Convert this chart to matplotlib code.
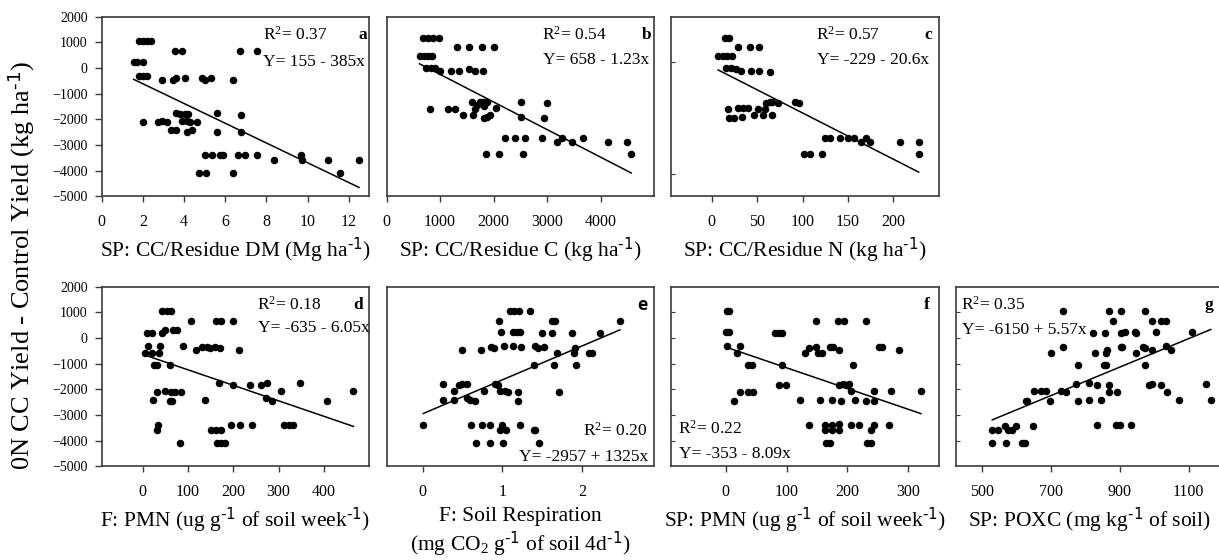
import matplotlib
matplotlib.use("Agg")
import matplotlib.pyplot as plt
import numpy as np

plt.rcParams["font.family"] = ["Liberation Serif", "DejaVu Serif"]
plt.rcParams["mathtext.default"] = "regular"

# %%
# values
a_x = [1.55, 1.7, 2.0, 1.8, 2.0, 2.2, 2.4, 1.8, 2.0, 2.2, 2.0, 2.95, 3.45, 3.6, 4.05, 4.85,
       5.0, 5.3, 6.4, 3.55, 3.9, 6.7, 7.55, 2.75, 2.95, 3.15, 3.35, 3.6, 3.6, 3.8, 3.9, 4.05,
       4.15, 4.2, 4.3, 4.15, 4.4, 4.65, 5.6, 5.6, 6.75, 6.75, 5.0, 5.35, 5.75, 5.9, 6.6, 6.95,
       7.55, 9.7, 9.75, 8.35, 11.0, 12.5, 4.75, 5.05, 6.4, 11.6]
a_y = [250, 250, 250, 1050, 1050, 1050, 1050, -300, -300, -300, -2100, -450, -450, -400, -400,
       -400, -450, -400, -450, 650, 650, 650, 650, -2100, -2050, -2100, -2400, -2400, -1750,
       -1800, -2050, -1800, -2050, -1800, -2100, -2500, -2400, -2100, -1750, -2500, -1850,
       -2500, -3400, -3400, -3400, -3400, -3400, -3400, -3400, -3400, -3600, -3600, -3600,
       -3600, -4100, -4100, -4100, -4100]

b_x = [680, 770, 860, 970, 1310, 1540, 1775, 2010, 615, 690, 770, 850, 740, 825, 905, 1000,
       1200, 1360, 1540, 1650, 1805, 815, 1155, 1280, 1435, 1595, 1610, 1660, 1695, 1745, 1795,
       1825, 1870, 1820, 1880, 1930, 2045, 2520, 2510, 2940, 3005, 2210, 2400, 2585, 2895,
       3190, 3280, 3470, 3670, 4130, 4500, 1850, 2105, 2540, 4570]
b_y = [1050, 1050, 1050, 1050, 650, 650, 650, 650, 250, 250, 250, 250, -300, -300, -300, -400,
       -400, -400, -350, -400, -400, -2100, -2100, -2100, -2400, -1800, -2400, -2100, -1950,
       -1800, -1800, -2000, -1800, -2500, -2450, -2400, -2050, -1800, -2450, -2500, -1850,
       -3400, -3400, -3400, -3400, -3600, -3400, -3600, -3400, -3600, -3600, -4100, -4100,
       -4100, -4100]

c_x = [15, 19, 29, 42, 52, 7, 12, 17, 22, 16, 21.5, 27, 32, 43, 52, 64, 60, 64, 66, 73, 92,
       96, 18, 29, 34.5, 40, 51, 59, 19, 25, 33, 47, 56.5, 66, 125, 130, 141, 150, 157, 165,
       170, 174, 207, 228, 102, 108, 122, 228]
c_y = [1050, 1050, 650, 650, 650, 250, 250, 250, 250, -300, -300, -350, -400, -400, -400, -450,
       -1850, -1800, -1800, -1850, -1800, -1850, -2100, -2050, -2050, -2050, -2100, -2100,
       -2500, -2500, -2450, -2400, -2400, -2400, -3400, -3400, -3400, -3400, -3400, -3600,
       -3400, -3600, -3600, -3600, -4100, -4100, -4100, -4100]

d_x = [5, 9, 20, 13, 22, 25, 32, 37, 38, 42, 44, 53, 62, 49, 24, 32, 31, 35, 49, 62, 72, 84,
       61, 66, 61, 68, 75, 83, 89, 106, 118, 131, 142, 149, 160, 171, 137, 162, 173, 169, 151,
       162, 173, 164, 173, 182, 199, 199, 195, 212, 215, 241, 236, 262, 275, 272, 286, 306,
       311, 323, 332, 348, 406, 465]
d_y = [-600, 200, 200, -300, -600, -1050, -1050, -600, -300, 200, 1050, 1050, 1050, 300, -2400,
       -2100, -3600, -3400, -2050, -2100, -2100, -2100, -2450, -2450, -1050, 300, 300, -4100,
       -300, 650, -450, -350, -350, -400, -350, -400, -2400, 650, 650, -1750, -3600, -3600,
       -3600, -4100, -4100, -4100, 650, -1850, -3400, -450, -3400, -3400, -1850, -1850, -1750,
       -2350, -2450, -2050, -3400, -3400, -3400, -1750, -2450, -2050]

e_x = [0.01, 0.26, 0.26, 0.40, 0.40, 0.46, 0.49, 0.56, 0.49, 0.56, 0.60, 0.66, 0.77, 0.73,
       0.86, 0.89, 0.91, 0.94, 0.97, 1.03, 1.07, 0.96, 0.98, 1.02, 1.09, 1.14, 1.21, 1.34,
       1.13, 1.18, 1.22, 1.13, 1.23, 1.19, 1.19, 0.61, 0.74, 0.85, 0.97, 0.99, 1.04, 1.22,
       1.39, 1.41, 0.67, 0.84, 1.01, 1.46, 1.41, 1.45, 1.52, 1.40, 1.49, 1.62, 1.66, 1.62,
       1.68, 1.65, 1.71, 1.87, 1.89, 1.91, 1.92, 2.09, 2.12, 2.22, 2.47]
e_y = [-3400, -1800, -2400, -2050, -2400, -1850, -1800, -1800, -450, -2350, -2400, -2450,
       -2050, -450, -350, -400, -1800, -1850, -2050, -2050, -2100, 650, 250, -300, 1050, 1050,
       1050, 1050, 250, 250, 250, -300, -350, -2100, -2450, -3400, -3400, -3400, -3600, -3400,
       -3600, -3400, -3600, -3600, -4100, -4100, -4100, -4100, -300, -400, -350, -1050, 200,
       650, 650, 200, -600, -1050, -2100, 200, -600, -400, -1050, -600, -600, 200, 650]

f_x = [2, 5, 0, 4.6, 2, 24, 18, 37, 24, 37, 13, 44, 45, 81, 88, 93, 92, 88, 99, 122, 130, 137,
       149, 151, 158, 149, 155, 137, 171, 177, 174, 163, 163, 174, 186, 165, 171, 175, 187,
       184, 195, 187, 187, 192, 197, 203, 190, 206, 210, 213, 206, 219, 230, 231, 244, 233,
       239, 239, 244, 244, 252, 257, 268, 272, 285, 321]
f_y = [1050, 1050, 250, 250, -300, -300, -600, -1050, -2100, -2100, -2450, -1050, -2100, 200,
       200, 200, -1050, -1850, -1850, -2400, -600, -400, -350, -600, -600, 650, -2400, -3400,
       -350, -350, -2400, -3400, -3600, -3600, -3600, -4100, -4100, -3400, -3350, 650, 650,
       -450, -1850, -1800, -1850, -1800, -2450, -2050, -1050, -2400, -3400, -3400, 650, -2450,
       -2450, -4100, -4100, -3600, -3400, -2050, -350, -350, -3400, -2050, -450, -2050]

g_x = [531, 548, 569, 577, 587, 601, 531, 572, 617, 627, 649, 628, 632, 651, 673, 686, 697,
       701, 729, 744, 736, 736, 779, 774, 779, 811, 811, 824, 827, 834, 834, 847, 854, 859,
       857, 860, 862, 868, 868, 870, 880, 890, 900, 933, 893, 903, 908, 905, 905, 915, 943,
       948, 948, 968, 973, 973, 973, 986, 993, 993, 994, 1004, 1020, 1020, 1034, 1049, 1034,
       1036, 1073, 1110, 1151, 1164]
g_y = [-3600, -3600, -3450, -3600, -3600, -3450, -4100, -4100, -4100, -4100, -3450, -2450,
       -2450, -2050, -2050, -2050, -2450, -600, -2050, -2100, 1050, -350, -1050, -1800, -2450,
       -1750, -2400, 200, -600, -1850, -3400, -2400, -1050, -1050, 200, -600, -450, -1850,
       -2100, 1050, 650, -3400, -3400, -3400, -2100, -350, -350, 1050, 200, 250, 250, 200,
       -600, -350, -400, 1050, -1050, -1850, -1800, 650, -450, 250, -1850, 650, -300, -450,
       650, -2100, -2400, 250, -1800, -2400]

# printed regression results (intercept, slope, R2)
intercepts = [155, 658, -229, -635, -2957, -353, -6150]
slopes = [-385, -1.23, -20.6, -6.05, 1325, -8.09, 5.57]
r2 = ["0.37", "0.54", "0.57", "0.18", "0.20", "0.22", "0.35"]
equations = ["Y= 155 - 385x", "Y= 658 - 1.23x", "Y= -229 - 20.6x", "Y= -635 - 6.05x",
             "Y= -2957 + 1325x", "Y= -353 - 8.09x", "Y= -6150 + 5.57x"]
letters = ["a", "b", "c", "d", "e", "f", "g"]

inv = r"$^{\text{-1}}$"
xlabels = [
    "SP: CC/Residue DM (Mg ha" + inv + ")",
    "SP: CC/Residue C (kg ha" + inv + ")",
    "SP: CC/Residue N (kg ha" + inv + ")",
    "F: PMN (ug g" + inv + " of soil week" + inv + ")",
    "F: Soil Respiration\n(mg CO$_{2}$ g" + inv + " of soil 4d" + inv + ")",
    "SP: PMN (ug g" + inv + " of soil week" + inv + ")",
    "SP: POXC (mg kg" + inv + " of soil)",
]
xticks = [[0, 2, 4, 6, 8, 10, 12], [0, 1000, 2000, 3000, 4000], [0, 50, 100, 150, 200],
          [0, 100, 200, 300, 400], [0, 1, 2], [0, 100, 200, 300], [500, 700, 900, 1100]]
xlims = [(0, 13), (0, 5000), (-45, 250), (-90, 500), (-0.45, 2.9), (-90, 350), (425, 1200)]
ylims = [(-5000, 2000), (-6000, 2000), (-6000, 2000), (-5000, 2000), (-5000, 2000),
         (-5000, 2000), (-5000, 2000)]

xs = [a_x, b_x, c_x, d_x, e_x, f_x, g_x]
ys = [a_y, b_y, c_y, d_y, e_y, f_y, g_y]

# %%
W, H = 1219, 560
fig = plt.figure(figsize=(W / 100, H / 100), dpi=100)

lefts = [101.7, 386.6, 671, 101.7, 386.6, 671, 955.7]
tops = [16.7, 16.7, 16.7, 286.7, 286.7, 286.7, 286.7]
pw, ph = 267.6, 179.5

# where the stat text sits in each panel (axes fraction, alignment)
r2_pos = [(0.603, 0.90, "left"), (0.58, 0.90, "left"), (0.543, 0.90, "left"),
          (0.58, 0.90, "left"), (0.972, 0.195, "right"), (0.027, 0.21, "left"),
          (0.019, 0.90, "left")]
eq_pos = [(0.603, 0.745, "left"), (0.584, 0.76, "left"), (0.545, 0.76, "left"),
          (0.585, 0.768, "left"), (0.978, 0.05, "right"), (0.031, 0.07, "left"),
          (0.022, 0.758, "left")]
letter_x = [0.974, 0.972, 0.963, 0.96, 0.955, 0.957, 0.947]

spine_col = "#3a3a3a"

for i in range(7):
    ax = fig.add_axes([lefts[i] / W, 1 - (tops[i] + ph) / H, pw / W, ph / H])
    ax.plot(xs[i], ys[i], "o", color="black", ms=4.4, mec="black", ls="")
    lx = np.array([min(xs[i]), max(xs[i])])
    ax.plot(lx, intercepts[i] + slopes[i] * lx, color="black", lw=1.1)

    ax.set_xlim(*xlims[i])
    ax.set_ylim(*ylims[i])
    ax.set_xticks(xticks[i])
    ax.tick_params(axis="x", direction="out", length=4, width=1, pad=9,
                   labelsize=11.5, color=spine_col)
    for s in ax.spines.values():
        s.set_color(spine_col)
        s.set_linewidth(1.2)

    if i in (0, 3):
        ax.set_yticks(range(-5000, 2001, 1000))
        ax.tick_params(axis="y", direction="out", length=5, width=1, pad=5,
                       labelsize=10, color=spine_col)
    elif i == 2:
        ax.set_yticks([-5000, 0])
        ax.tick_params(axis="y", direction="in", length=3, labelleft=False, color=spine_col)
    elif i in (5, 6):
        ax.set_yticks(range(-4000, 1001, 1000))
        ax.tick_params(axis="y", direction="in", length=3, labelleft=False, color=spine_col)
    else:
        ax.set_yticks([])

    rx, ry, rha = r2_pos[i]
    ax.text(rx, ry, "R$^{2}$= " + r2[i], transform=ax.transAxes, ha=rha, va="center",
            fontsize=12.5)
    ex, ey, eha = eq_pos[i]
    ax.text(ex, ey, equations[i], transform=ax.transAxes, ha=eha, va="center", fontsize=12.5)
    if letters[i] == "e":
        ax.text(letter_x[i], 0.90, "e", transform=ax.transAxes, ha="center", va="center",
                fontsize=12.5, fontweight="bold", family=["Open Sans", "DejaVu Sans"])
    else:
        ax.text(letter_x[i], 0.90, letters[i], transform=ax.transAxes, ha="center",
                va="center", fontsize=12.5, fontweight="bold")

    ax.set_xlabel(xlabels[i], fontsize=15.5, va="center", linespacing=1.15)
    if i == 4:
        ax.xaxis.set_label_coords(0.5, -0.37)
    else:
        ax.xaxis.set_label_coords(0.5, -0.297)

fig.text(21 / W, 1 - 265 / H, "0N CC Yield - Control Yield (kg ha" + inv + ")", rotation=90,
         ha="center", va="center", fontsize=19)

fig.savefig("out.png", dpi=100)
